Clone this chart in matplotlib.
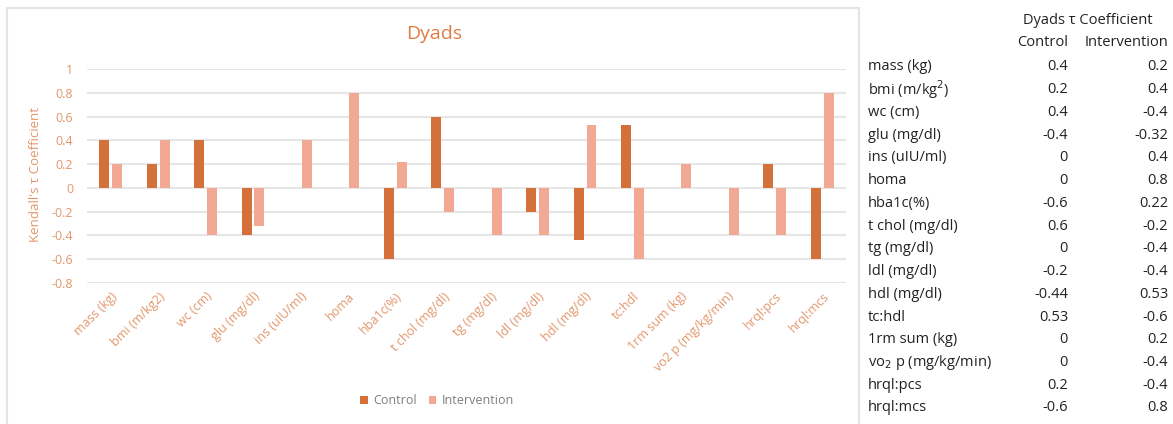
import numpy as np
import matplotlib.pyplot as plt
from matplotlib.patches import Rectangle

plt.rcParams['font.family'] = ['Open Sans', 'DejaVu Sans']

# data
categories = ["mass (kg)", "bmi (m/kg2)", "wc (cm)", "glu (mg/dl)", "ins (uIU/ml)",
              "homa", "hba1c(%)", "t chol (mg/dl)", "tg (mg/dl)", "ldl (mg/dl)",
              "hdl (mg/dl)", "tc:hdl", "1rm sum (kg)", "vo2 p (mg/kg/min)",
              "hrql:pcs", "hrql:mcs"]
table_labels = ["mass (kg)", "bmi (m/kg$^2$)", "wc (cm)", "glu (mg/dl)", "ins (uIU/ml)",
                "homa", "hba1c(%)", "t chol (mg/dl)", "tg (mg/dl)", "ldl (mg/dl)",
                "hdl (mg/dl)", "tc:hdl", "1rm sum (kg)", "vo$_2$ p (mg/kg/min)",
                "hrql:pcs", "hrql:mcs"]
control = [0.4, 0.2, 0.4, -0.4, 0, 0, -0.6, 0.6, 0, -0.2, -0.44, 0.53, 0, 0, 0.2, -0.6]
intervention = [0.2, 0.4, -0.4, -0.32, 0.4, 0.8, 0.22, -0.2, -0.4, -0.4, 0.53, -0.6, 0.2, -0.4, -0.4, 0.8]
yticks = [-0.8, -0.6, -0.4, -0.2, 0, 0.2, 0.4, 0.6, 0.8, 1]

c_dark = "#D4703A"
c_light = "#F1A994"
c_text = "#E3966B"

W, H = 1173, 424
fig = plt.figure(figsize=(W / 100, H / 100), dpi=100)

# chart frame
fig.patches.append(Rectangle((7 / W, -0.05), (859 - 7) / W, 1.05 - 8 / H,
                             transform=fig.transFigure, fill=False,
                             edgecolor="#E4E4E4", linewidth=1.5))

ax = fig.add_axes([87 / W, 1 - 283 / H, (846 - 87) / W, (283 - 69) / H])
x = np.arange(len(categories))
w = 0.21
ax.bar(x - 0.135, control, w, color=c_dark, label="Control", zorder=3)
ax.bar(x + 0.135, intervention, w, color=c_light, label="Intervention", zorder=3)

ax.set_xlim(-0.5, len(categories) - 0.5)
ax.set_ylim(-0.8, 1.0)
ax.set_yticks(yticks)
ax.set_yticklabels([f"{t:g}" for t in yticks], color=c_text, fontsize=9)
ax.tick_params(axis="y", length=0, pad=10)
ax.tick_params(axis="x", length=0, pad=5)
ax.set_xticks(x)
ax.set_xticklabels(categories, rotation=45, ha="right", rotation_mode="anchor",
                   color=c_text, fontsize=9)
ax.grid(axis="y", color="#E6E6E6", linewidth=1.5, zorder=0)
for s in ax.spines.values():
    s.set_visible(False)
ax.set_facecolor("none")

fig.text(36 / W, 1 - 175 / H, "Kendall's τ Coefficient", rotation=90, color=c_text,
         fontsize=9.5, ha="center", va="center")
fig.text(434 / W, 1 - 34 / H, "Dyads", color="#E07B45", fontsize=14,
         ha="center", va="center")

ax.legend(loc="center", bbox_to_anchor=(437 / W, 1 - 401 / H),
          bbox_transform=fig.transFigure, ncol=2, frameon=False,
          fontsize=9, labelcolor="#7F7F7F", handlelength=0.6, handleheight=0.6,
          handletextpad=0.4, columnspacing=1.0)

# table on the right
tfs = 10.5
tc = "#222222"
fig.text(1088 / W, 1 - 20 / H, "Dyads τ Coefficient", ha="center", va="center", fontsize=tfs, color=tc)
fig.text(1068 / W, 1 - 43 / H, "Control", ha="right", va="center", fontsize=tfs, color=tc)
fig.text(1168 / W, 1 - 43 / H, "Intervention", ha="right", va="center", fontsize=tfs, color=tc)
for i, lab in enumerate(table_labels):
    yy = 1 - (67 + i * 22.73) / H
    fig.text(868 / W, yy, lab, ha="left", va="center", fontsize=tfs, color=tc)
    fig.text(1068 / W, yy, f"{control[i]:g}", ha="right", va="center", fontsize=tfs, color=tc)
    fig.text(1168 / W, yy, f"{intervention[i]:g}", ha="right", va="center", fontsize=tfs, color=tc)

fig.savefig("out.png", dpi=100)
